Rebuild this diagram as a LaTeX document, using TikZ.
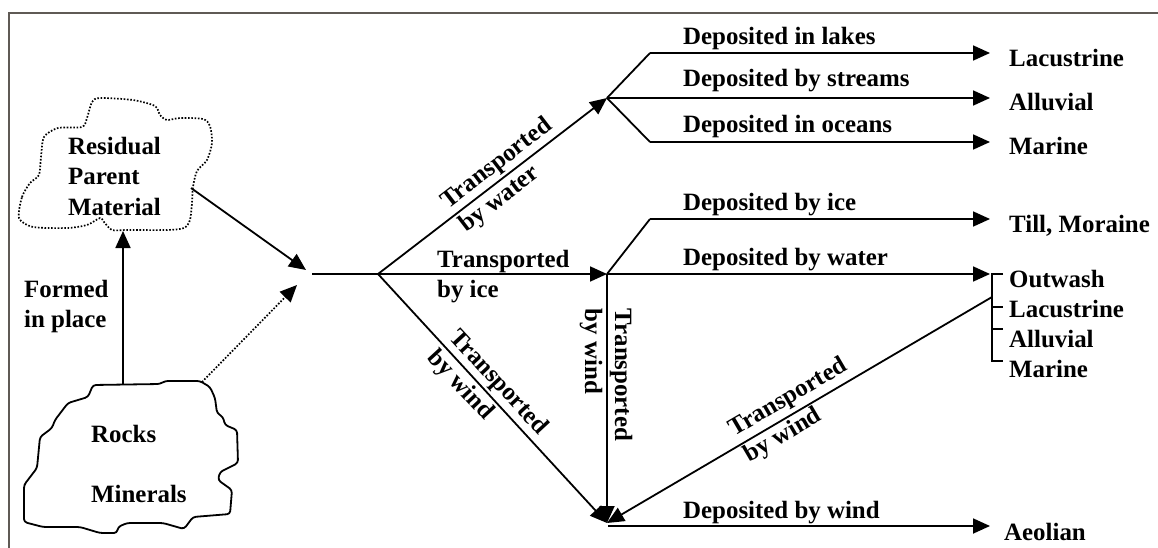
\documentclass[tikz,border=0pt]{standalone}
\usepackage{fontspec}
\setmainfont{Liberation Serif}
\usetikzlibrary{arrows.meta}
\definecolor{framegray}{RGB}{95,90,85}
\begin{document}
\begin{tikzpicture}[x=1pt,y=-1pt,
  txt/.style={font=\fontsize{24.9}{30}\selectfont\bfseries, inner sep=0pt},
  lbl/.style={txt, anchor=base west},
  rlbl/.style={txt, align=left, anchor=center},
  conn/.style={line width=1.8pt, line join=miter},
  arr/.style={conn, -{Triangle[length=17pt,width=15pt]}},
  dotline/.style={line width=1.7pt, dash pattern=on 1.6pt off 1.7pt}]
\useasboundingbox (0,0) rectangle (1158,548);
\draw[line width=2pt, color=framegray] (9,548) -- (9,13) -- (1158,13);

% shapes
\draw[dotline] plot[smooth cycle, tension=0.45] coordinates {
 (19,218) (22,197) (30,183) (39,175) (41,157) (44,137) (58,128) (82,127)
 (87,118) (92,102) (100,98) (133,100) (155,106) (160,115) (167,120)
 (180,118) (203,119) (210,126) (212,143) (207,160) (197,171) (193,187)
 (192,203) (190,220) (184,228) (167,230) (127,230) (112,230) (104,222)
 (100,218) (87,225) (67,228) (33,227)};
\draw[line width=1.8pt, line join=round, rounded corners=3pt]
 (93,385) -- (160,384) -- (165,381) -- (200,381) -- (210,387) -- (215,398)
 -- (217,413) -- (223,417) -- (225,425) -- (237,430) -- (238,463)
 -- (220,472) -- (218,480) -- (232,490) -- (230,514) -- (193,517)
 -- (184,529) -- (163,523) -- (127,523) -- (118,527) -- (117,533)
 -- (100,533) -- (80,527) -- (43,527) -- (24,522) -- (24,485)
 -- (37,468) -- (40,437) -- (52,428) -- (55,420) -- (68,403)
 -- (88,397) -- cycle;

% coordinates
\coordinate (cloudout) at (191,188);
\coordinate (cloudbot) at (123,231);
\coordinate (rocktop) at (123,384);
\coordinate (rockout) at (202,382);
\coordinate (cloudtip) at (306,270);
\coordinate (rocktip) at (297,285);
\coordinate (hubin) at (312,274);
\coordinate (hub) at (378,274);
\coordinate (water) at (607,98);
\coordinate (ice) at (607,274);
\coordinate (wind) at (607,523);
\coordinate (w1) at (650,53);
\coordinate (w1e) at (990,53);
\coordinate (w2e) at (990,98);
\coordinate (w3) at (650,142);
\coordinate (w3e) at (990,142);
\coordinate (i1) at (650,219);
\coordinate (i1e) at (990,219);
\coordinate (i2e) at (990,274);
\coordinate (windstart) at (608,526);
\coordinate (winde) at (990,526);
\coordinate (brtop) at (992,274);
\coordinate (brbot) at (992,361);
\coordinate (brjoin) at (992,297);

% connectors
\draw[arr] (cloudout) -- (cloudtip);
\draw[arr] (rocktop) -- (cloudbot);
\draw[dotline, -{Triangle[length=17pt,width=15pt]}] (rockout) -- (rocktip);
\draw[conn] (hubin) -- (hub);
\draw[arr] (hub) -- (water);
\draw[arr] (hub) -- (ice);
\draw[arr] (hub) -- (wind);
\draw[conn] (water) -- (w1);
\draw[arr] (w1) -- (w1e);
\draw[arr] (water) -- (w2e);
\draw[conn] (water) -- (w3);
\draw[arr] (w3) -- (w3e);
\draw[conn] (ice) -- (i1);
\draw[arr] (i1) -- (i1e);
\draw[arr] (ice) -- (i2e);
\draw[arr] (ice) -- (wind);
\draw[arr] (brjoin) -- (wind);
\draw[arr] (windstart) -- (winde);
\draw[conn] (1003,274) -- (brtop) -- (brbot) -- (1003,361);
\draw[conn] (992,307) -- (1003,307);
\draw[conn] (992,329) -- (1003,329);

% texts
\node[lbl] (t1) at (68,155) {Residual};
\node[lbl] (t2) at (68,185) {Parent};
\node[lbl] (t3) at (68,215) {Material};
\node[lbl] (t4) at (24,297) {Formed};
\node[lbl] (t5) at (24,327) {in place};
\node[lbl] (t6) at (91,442) {Rocks};
\node[lbl] (t7) at (91,502) {Minerals};
\node[lbl] (t8) at (437,267) {Transported};
\node[lbl] (t9) at (437,297) {by ice};
\node[lbl] (d1) at (683,45) {Deposited in lakes};
\node[lbl] (d2) at (683,87) {Deposited by streams};
\node[lbl] (d3) at (683,133) {Deposited in oceans};
\node[lbl] (d4) at (683,210) {Deposited by ice};
\node[lbl] (d5) at (683,265) {Deposited by water};
\node[lbl] (d6) at (683,518) {Deposited by wind};
\node[lbl] (r1) at (1009,67) {Lacustrine};
\node[lbl] (r2) at (1009,111) {Alluvial};
\node[lbl] (r3) at (1009,155) {Marine};
\node[lbl] (r4) at (1009,232) {Till, Moraine};
\node[lbl] (r5) at (1009,287) {Outwash};
\node[lbl] (r6) at (1009,317) {Lacustrine};
\node[lbl] (r7) at (1009,347) {Alluvial};
\node[lbl] (r8) at (1009,377) {Marine};
\node[lbl] (r9) at (1004,540) {Aeolian};
\node[rlbl, rotate=37.5] (tw) at (506,176) {Transported\\by water};
\node[rlbl, rotate=-47.3] (tdw) at (487,393) {Transported\\by wind};
\node[rlbl, rotate=-90] (tvw) at (606,375) {Transported\\by wind};
\node[rlbl, rotate=30.3] (trw) at (796,411) {Transported\\by wind};
\end{tikzpicture}
\end{document}
